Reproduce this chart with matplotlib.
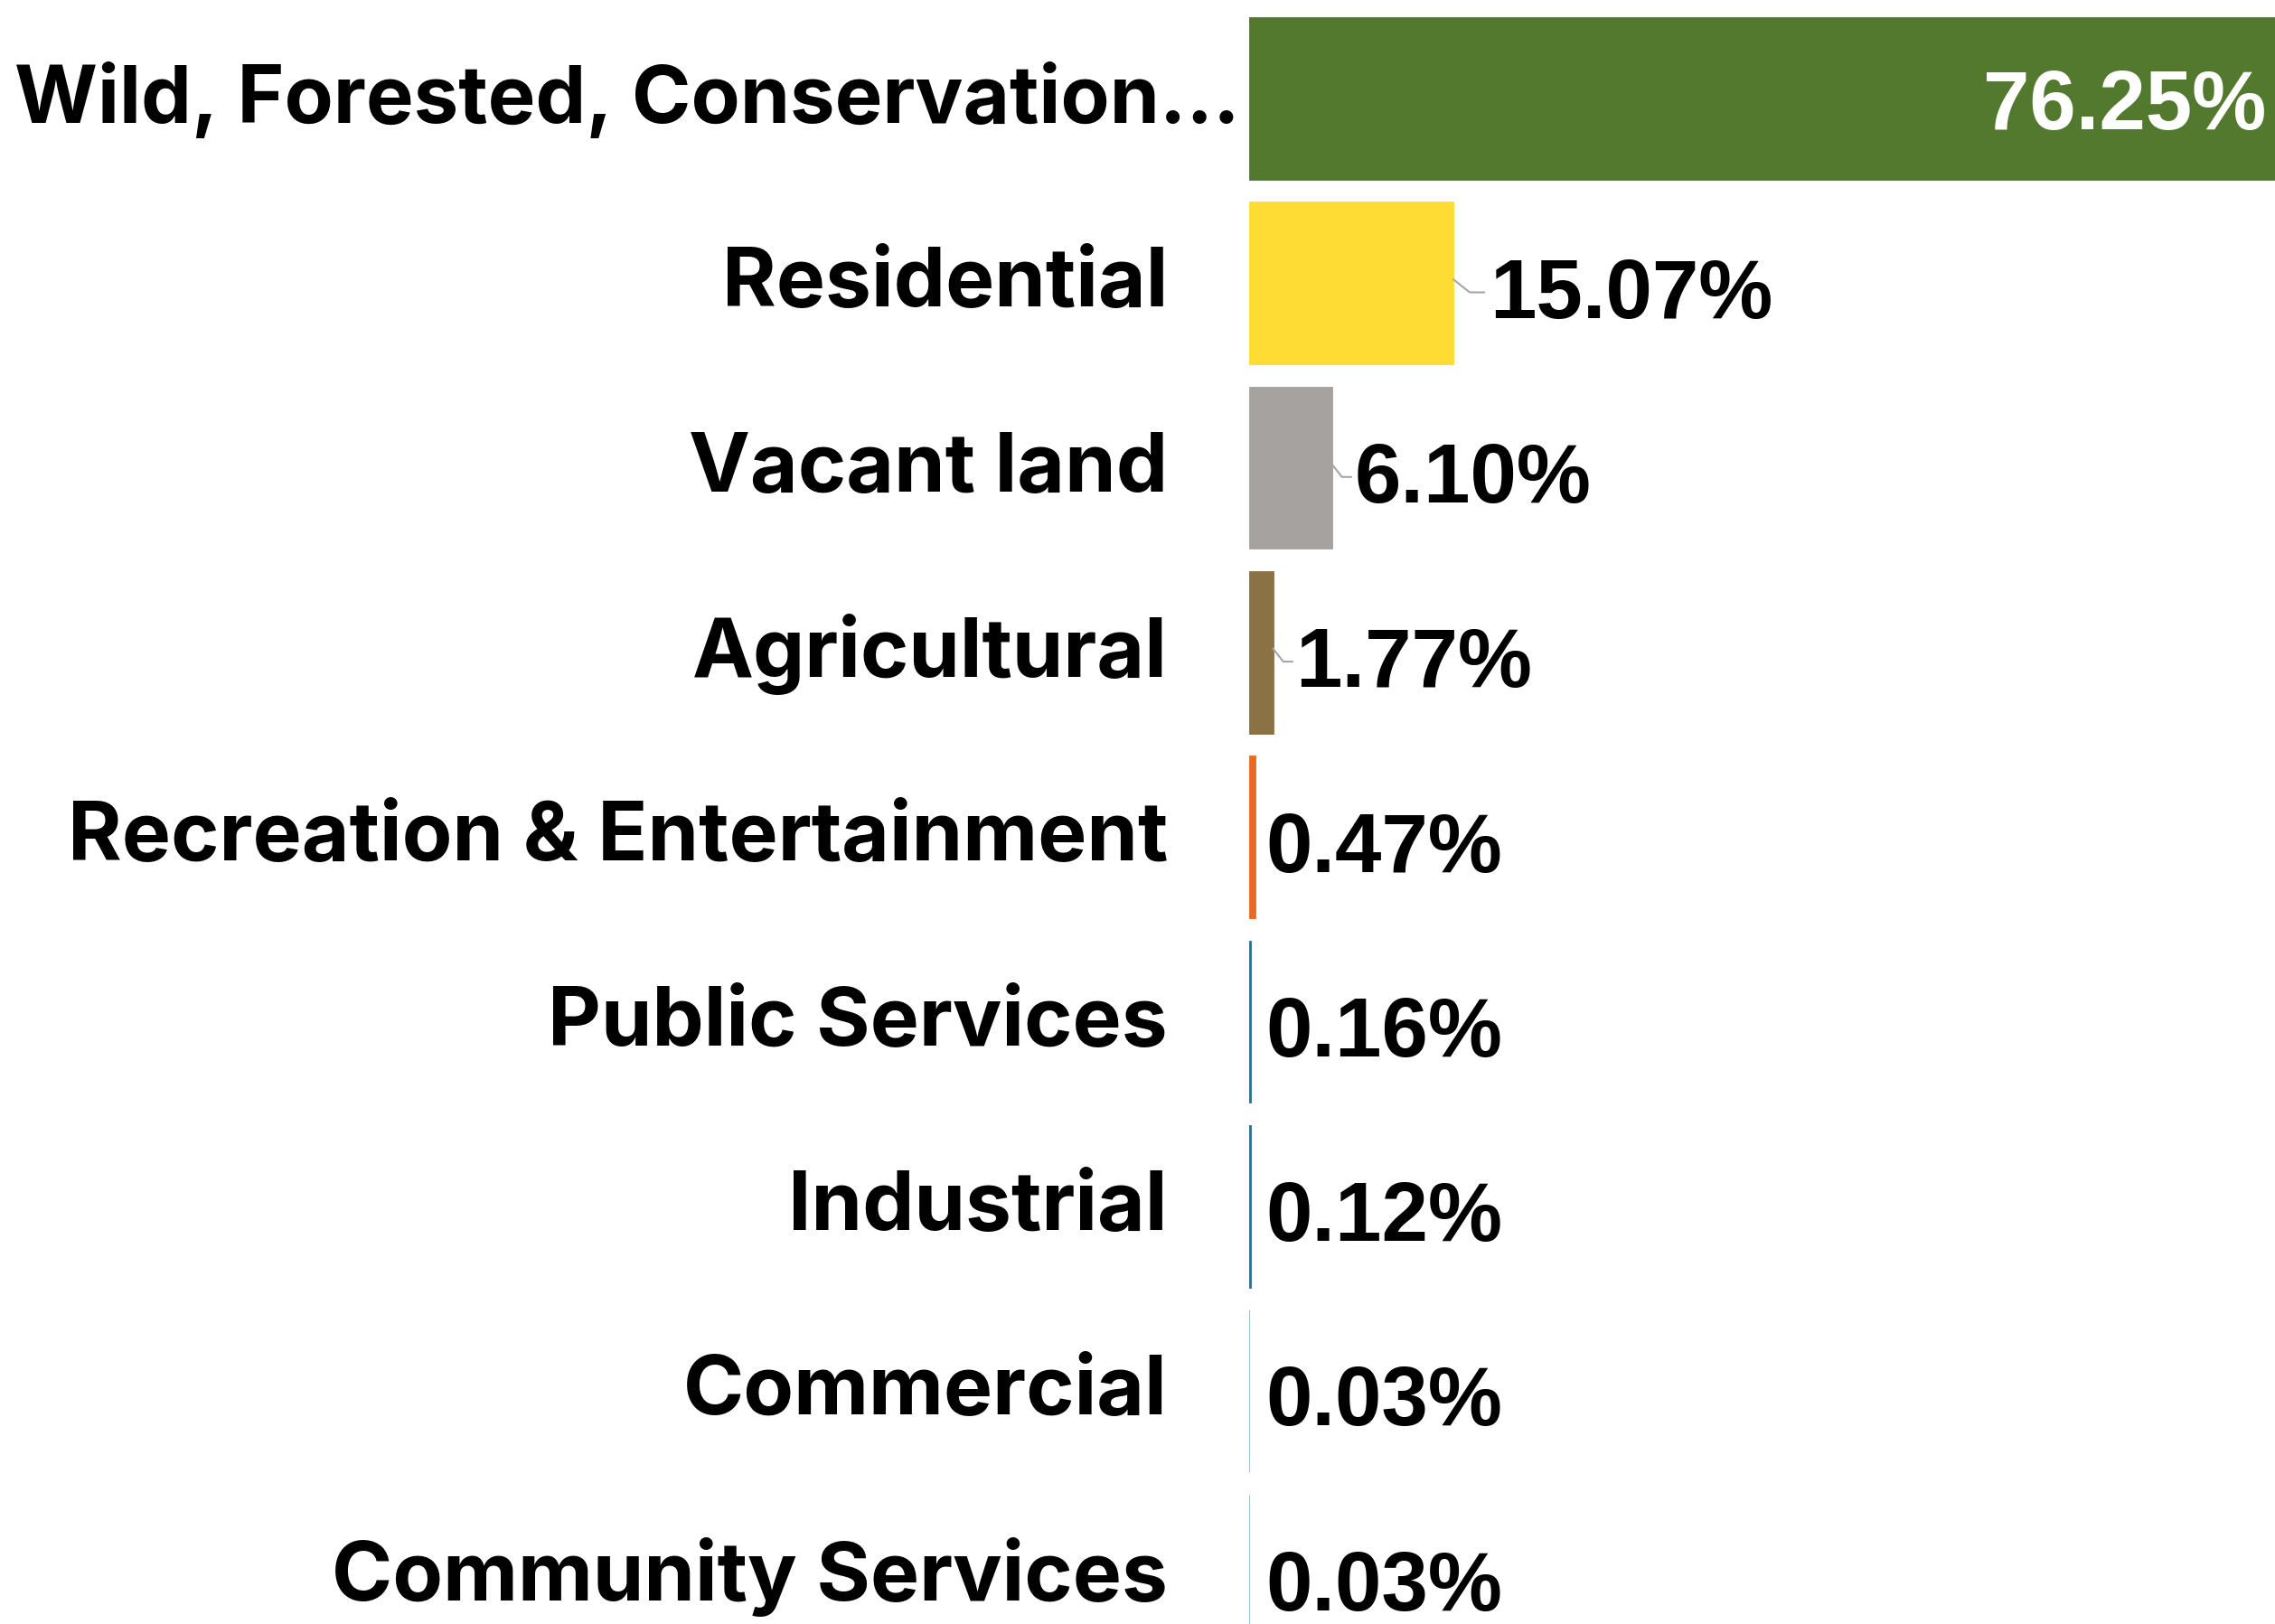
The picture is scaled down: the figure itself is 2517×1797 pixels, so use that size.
import matplotlib
matplotlib.use("Agg")
import matplotlib.pyplot as plt

categories = [
    "Wild, Forested, Conservation...",
    "Residential",
    "Vacant land",
    "Agricultural",
    "Recreation & Entertainment",
    "Public Services",
    "Industrial",
    "Commercial",
    "Community Services",
]
shares = [76.25, 15.07, 6.10, 1.77, 0.47, 0.16, 0.12, 0.03, 0.03]
value_labels = ["76.25%", "15.07%", "6.10%", "1.77%", "0.47%", "0.16%", "0.12%", "0.03%", "0.03%"]
colors = ["#53792F", "#FFDC33", "#A6A2A0", "#8A7245", "#E8672A",
          "#2A6E96", "#2A6E96", "#8CB4C6", "#8CB4C6"]

W, H = 2517, 1797
DPI = 100
PX_PER_PCT = 15.0          # horizontal scale of the bars
BAR_LEFT = 1382            # pixel where bars start
ROW_TOP = 109              # centre of first row (pixels from top)
ROW_PITCH = 204.3          # spacing between rows (pixels)

fig = plt.figure(figsize=(W / DPI, H / DPI), dpi=DPI)
ax = fig.add_axes([BAR_LEFT / W, 0, 1 - BAR_LEFT / W, 1])
ax.set_xlim(0, (W - BAR_LEFT) / PX_PER_PCT)
ax.set_ylim((H - ROW_TOP) / ROW_PITCH, -ROW_TOP / ROW_PITCH)
ax.axis("off")

rows = list(range(len(categories)))
ax.barh(rows, shares, height=0.88, color=colors, edgecolor=colors, linewidth=0.6)

label_font = dict(family=["Inter", "DejaVu Sans"], weight="bold", color="black")
value_font = dict(family=["Liberation Sans", "DejaVu Sans"], weight="bold", size=66.5)

def px(n):
    return n / PX_PER_PCT

# category names, right aligned left of the bars (the long first one sits closer)
for r, name in zip(rows, categories):
    if r == 0:
        ax.text(px(-10), r + 0.01, name, ha="right", va="center",
                size=63.8, clip_on=False, **label_font)
    else:
        ax.text(px(-90), r + 0.01, name, ha="right", va="center",
                size=65.5, clip_on=False, **label_font)

# value labels; the three mid-size bars get a short leader line
leader_gap = {1: 40, 2: 25, 3: 25}
for r, (v, lab) in enumerate(zip(shares, value_labels)):
    if r == 0:
        ax.text(v - px(18), r + 0.05, lab, ha="right", va="center",
                color="white", **value_font)
        continue
    if r in leader_gap:
        gap = px(leader_gap[r])
        x_text = v + gap
        ax.plot([v, v + gap * 0.45, v + gap * 0.85],
                [r - 0.02, r + 0.05, r + 0.05],
                color="#A6A6A6", lw=1.5, clip_on=False)
    else:
        x_text = px(18)
    ax.text(x_text, r + 0.07, lab, ha="left", va="center",
            color="black", clip_on=False, **value_font)

fig.savefig("out.png", dpi=DPI, facecolor="white")
